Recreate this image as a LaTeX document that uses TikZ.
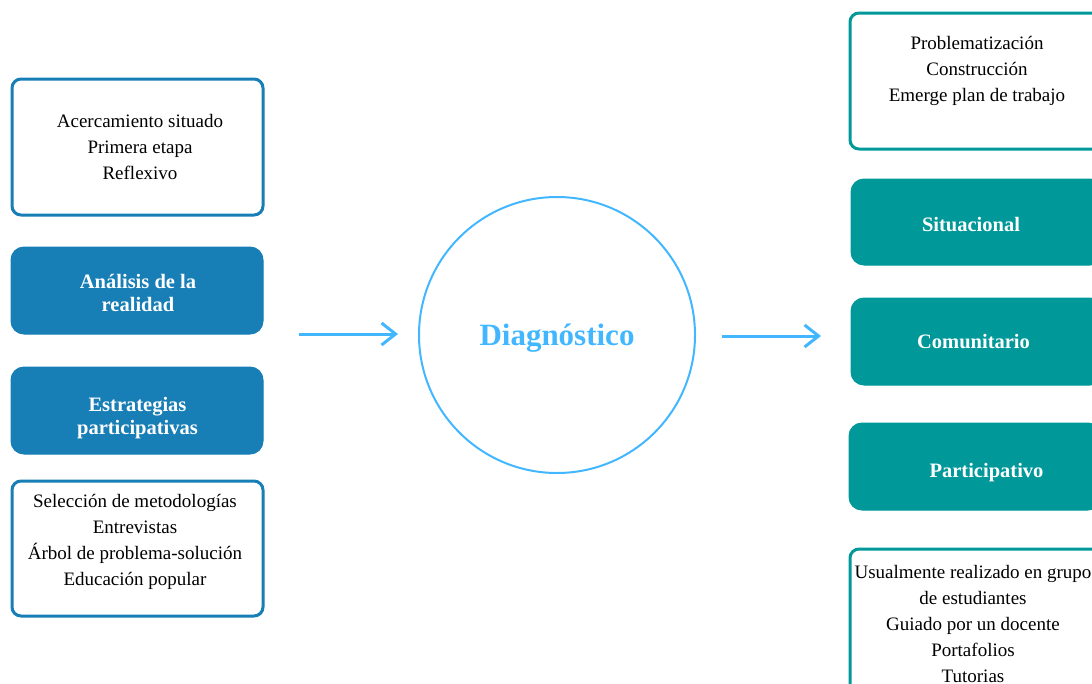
\documentclass[tikz,border=0pt]{standalone}
\usepackage{fontspec}
\setmainfont{Liberation Serif}
\usetikzlibrary{arrows.meta}
\definecolor{leftblue}{RGB}{24,126,182}
\definecolor{teal}{RGB}{0,152,153}
\definecolor{skyblue}{RGB}{66,183,255}
\begin{document}
\begin{tikzpicture}[x=1pt,y=-1pt,
  outlinebox/.style={draw=#1,line width=3pt,rounded corners=9pt,fill=white,
    minimum width=251pt,inner sep=0pt},
  filledbox/.style={draw=#1,line width=1pt,rounded corners=13pt,fill=#1,
    minimum width=252pt,minimum height=87pt,inner sep=0pt},
  plaintext/.style={align=center,font=\fontsize{19}{26}\selectfont,inner sep=0pt},
  boldtext/.style={align=center,text=white,font=\fontsize{20.5}{23}\selectfont\bfseries,inner sep=0pt},
  flowarrow/.style={draw=skyblue,line width=3pt,
    -{Straight Barb[length=14pt,width=22pt,line width=3pt]}}
]
\useasboundingbox (0,0) rectangle (1092,683);
\clip (0,0) rectangle (1092,683);

% left column
\node[outlinebox=leftblue,minimum height=136pt] (lbox1) at (137.5,147) {};
\node[plaintext] (ltext1) at (140,147) {Acercamiento situado\\Primera etapa\\Reflexivo};
\node[filledbox=leftblue] (analisis) at (137,290.5) {};
\node[boldtext] (analisisT) at (138,293) {Análisis de la\\realidad};
\node[filledbox=leftblue] (estrategias) at (137,410.5) {};
\node[boldtext] (estrategiasT) at (137.5,418) {Estrategias\\participativas};
\node[outlinebox=leftblue,minimum height=135pt] (lbox4) at (137.5,548.5) {};
\node[plaintext] (ltext4) at (135,542) {Selección de metodologías\\Entrevistas\\Árbol de problema-solución\\Educación popular};

% centre
\node[draw=skyblue,line width=2pt,circle,minimum size=276pt,inner sep=0pt] (diag) at (557,335) {};
\node[text=skyblue,font=\fontsize{31}{36}\selectfont\bfseries,inner sep=0pt] (diagT) at (557,338) {Diagnóstico};

\coordinate (inS) at (299,334);
\coordinate (inE) at (398,334);
\coordinate (outS) at (722,336);
\coordinate (outE) at (821,336);
\draw[flowarrow] (inS) -- (inE);
\draw[flowarrow] (outS) -- (outE);

% right column
\node[outlinebox=teal,minimum width=252pt,minimum height=136pt] (rbox1) at (976,81) {};
\node[plaintext] (rtext1) at (977,70.5) {Problematización\\Construcción\\Emerge plan de trabajo};
\node[filledbox=teal,minimum height=86pt] (situacional) at (977,222) {};
\node[boldtext] (situacionalT) at (971,225) {Situacional};
\node[filledbox=teal] (comunitario) at (977,341.5) {};
\node[boldtext] (comunitarioT) at (973.5,342) {Comunitario};
\node[filledbox=teal] (participativo) at (975,466.5) {};
\node[boldtext] (participativoT) at (986.5,473) {Participativo};
\node[outlinebox=teal,minimum width=252pt,minimum height=151pt] (rbox5) at (976,624.5) {};
\node[plaintext] (rtext5) at (973,624) {Usualmente realizado en grupo\\de estudiantes\\Guiado por un docente\\Portafolios\\Tutorias};
\end{tikzpicture}
\end{document}
